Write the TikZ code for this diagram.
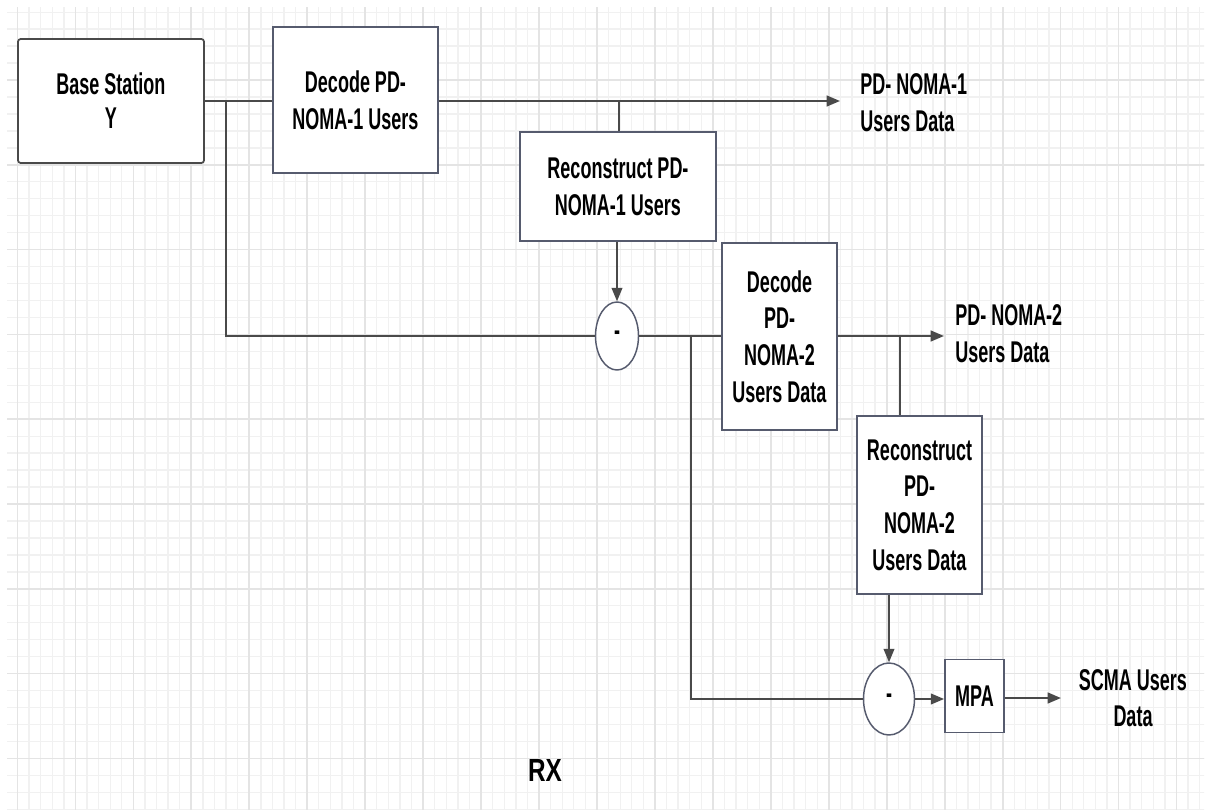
\documentclass[tikz,border=0pt]{standalone}
\usepackage{fontspec}
\setmainfont{Liberation Sans}[FakeStretch=0.6]
\newfontfamily\rxfont{Liberation Sans}[FakeStretch=0.76]
\usetikzlibrary{arrows.meta,shapes.geometric}

\definecolor{gridminor}{HTML}{F1F1F1}
\definecolor{gridmajor}{HTML}{E4E4E4}
\definecolor{boxline}{HTML}{565B6E}
\definecolor{wire}{HTML}{4A4A4A}

\tikzset{
  block/.style={draw=boxline, line width=1.3pt, fill=white, inner sep=0pt,
    align=center, font=\fontsize{22.5}{27.5}\selectfont\bfseries, text=black},
  sumnode/.style={draw=boxline, line width=1.1pt, fill=white, ellipse,
    inner sep=0pt, font=\fontsize{22.5}{27.5}\selectfont\bfseries},
  outlabel/.style={inner sep=0pt, font=\fontsize{22.5}{27.5}\selectfont\bfseries, text=black},
  wireline/.style={draw=wire, line width=1.6pt},
  thinwire/.style={draw=wire, line width=1.1pt},
  flow/.style={wireline, -{Triangle[length=10pt,width=8pt]}},
  thinflow/.style={thinwire, -{Triangle[length=10pt,width=8pt]}},
}

\begin{document}
\begin{tikzpicture}[x=0.75pt,y=-0.75pt]
  \useasboundingbox (0,0) rectangle (1211,810);
  \fill[white] (0,0) rectangle (1211,810);

  % background grid
  \begin{scope}
    \clip (7,7) rectangle (1204,810);
    \foreach \i in {0,...,103} \draw[gridminor, line width=1pt] ({5.9+11.59*\i},0) -- ++(0,810);
    \foreach \j in {0,...,47} \draw[gridminor, line width=1pt] (0,{12.2+16.96*\j}) -- ++(1211,0);
    \foreach \i in {0,...,20} \draw[gridmajor, line width=1.3pt] ({17.5+57.95*\i},0) -- ++(0,810);
    \foreach \j in {0,...,9} \draw[gridmajor, line width=1.3pt] (0,{80+84.8*\j}) -- ++(1211,0);
  \end{scope}

  % blocks
  \node[block, draw=wire, rounded corners=2pt, minimum width=186*0.75pt, minimum height=124*0.75pt]
    (bs) at (111,101) {Base Station\\[-2pt]Y};
  \node[block, minimum width=165*0.75pt, minimum height=146*0.75pt]
    (dec1) at (355.5,100) {Decode PD-\\NOMA-1 Users};
  \node[block, minimum width=196*0.75pt, minimum height=109*0.75pt]
    (rec1) at (618,186.5) {Reconstruct PD-\\NOMA-1 Users};
  \node[sumnode, minimum width=43*0.75pt, minimum height=68*0.75pt]
    (c1) at (617,336) {-};
  \node[block, minimum width=115*0.75pt, minimum height=187*0.75pt]
    (dec2) at (779.5,336.5) {Decode\\PD-\\NOMA-2\\Users Data};
  \node[block, minimum width=125*0.75pt, minimum height=178*0.75pt]
    (rec2) at (919.5,505) {Reconstruct\\PD-\\NOMA-2\\Users Data};
  \node[sumnode, minimum width=51*0.75pt, minimum height=72*0.75pt]
    (c2) at (889,699) {-};
  \node[block, minimum width=59*0.75pt, minimum height=73*0.75pt]
    (mpa) at (974.5,696) {MPA};

  % output labels
  \node[outlabel, anchor=west, align=left] (o1) at (860,103) {PD- NOMA-1\\Users Data};
  \node[outlabel, anchor=west, align=left] (o2) at (955,334) {PD- NOMA-2\\Users Data};
  \node[outlabel, align=center] (o3) at (1133,698) {SCMA Users\\Data};
  \node[inner sep=0pt, font=\fontsize{24}{28}\rxfont\bfseries] (rx) at (545,770) {RX};

  % junction and arrow-end points
  \coordinate (j1) at (226,101);
  \coordinate (j2) at (691,336);
  \coordinate (t1) at (840,101);
  \coordinate (t2) at (944,336);
  \coordinate (t3) at (1061,698);
  \coordinate (b1) at (619,101);
  \coordinate (b2) at (900,336);

  % connectors
  \draw[wireline] (bs.east |- j1) -- (dec1.west |- j1);
  \draw[wireline] (j1) -- (j1 |- c1.west) -- (c1.west);
  \draw[flow] (dec1.east |- t1) -- (t1);
  \draw[thinwire] (b1) -- (b1 |- rec1.north);
  \draw[thinflow] (c1.north |- rec1.south) -- (c1.north);
  \draw[wireline] (c1.east) -- (dec2.west |- c1.east);
  \draw[wireline] (j2) -- (j2 |- c2.west) -- (c2.west);
  \draw[flow] (dec2.east |- t2) -- (t2);
  \draw[thinwire] (b2) -- (b2 |- rec2.north);
  \draw[thinflow] (c2.north |- rec2.south) -- (c2.north);
  \draw[flow] (c2.east) -- (mpa.west |- c2.east);
  \draw[flow] (mpa.east |- t3) -- (t3);
\end{tikzpicture}
\end{document}
